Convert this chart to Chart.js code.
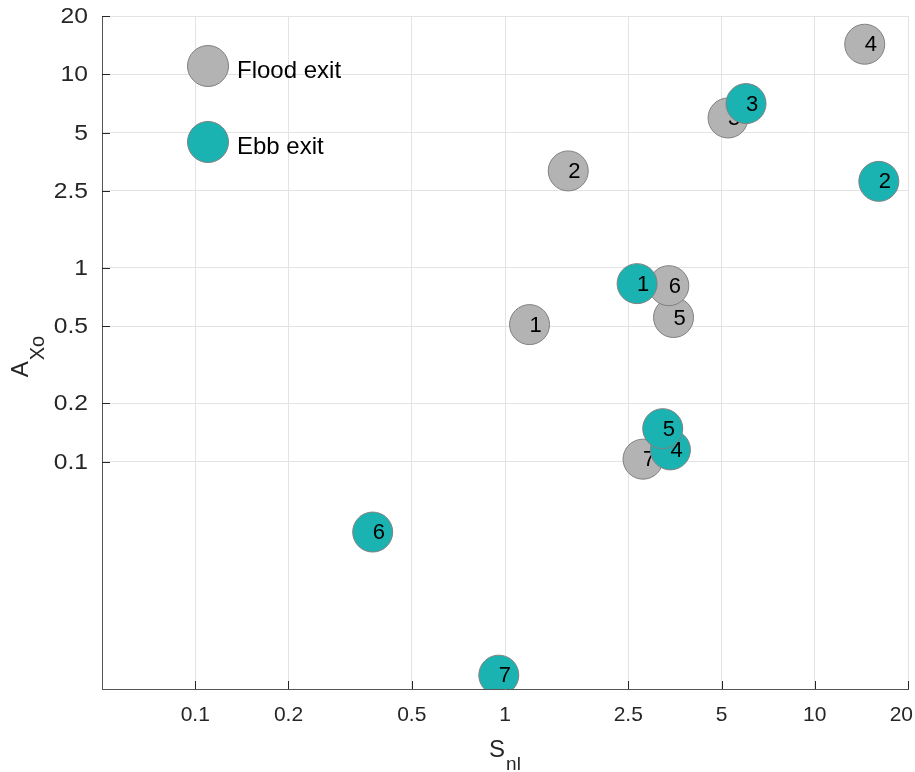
<!DOCTYPE html>
<html>
<head>
<meta charset="utf-8">
<script src="https://cdn.jsdelivr.net/npm/chart.js@4.4.1/dist/chart.umd.min.js"></script>
<style>
  html, body { margin: 0; padding: 0; background: #fff; }
  #wrap { width: 915px; height: 772px; }
</style>
</head>
<body>
<div id="wrap"><canvas id="chart" width="915" height="772"></canvas></div>
<script>
// numbers written on the bubbles
const pointIds = ['1', '2', '3', '4', '5', '6', '7'];

// Flood exit
const floodX = [1.2, 1.6, 5.25, 14.5, 3.5, 3.38, 2.79];
const floodY = [0.51, 3.17, 5.95, 14.3, 0.555, 0.81, 0.103];

// Ebb exit
const ebbX = [2.67, 16.1, 6.0, 3.42, 3.23, 0.374, 0.955];
const ebbY = [0.83, 2.8, 7.06, 0.115, 0.148, 0.0433, 0.0079];

const xTicks = [0.1, 0.2, 0.5, 1, 2.5, 5, 10, 20];
const xTickLabels = ['0.1', '0.2', '0.5', '1', '2.5', '5', '10', '20'];
const yTicks = [0.1, 0.2, 0.5, 1, 2.5, 5, 10, 20];
const yTickLabels = ['0.1', '0.2', '0.5', '1', '2.5', '5', '10', '20'];

const FONT = '"Liberation Sans", Arial, Helvetica, sans-serif';
const GRAY = '#b3b3b3';
const TEAL = '#1bb3b1';
const EDGE = '#808080';

function toPoints(xs, ys) {
    return xs.map((x, i) => ({ x: x, y: ys[i] }));
}

// numbers next to the centre of every bubble
const pointLabels = {
    id: 'pointLabels',
    afterDatasetDraw(chart, args) {
        const ctx = chart.ctx;
        ctx.save();
        ctx.font = '22px ' + FONT;
        ctx.fillStyle = '#000';
        ctx.textAlign = 'left';
        ctx.textBaseline = 'middle';
        args.meta.data.forEach((pt, i) => {
            ctx.fillText(pointIds[i], pt.x, pt.y + 1);
        });
        ctx.restore();
    }
};

// tick marks pointing into the plot, and the tick labels
// (labels drawn here so they do not push the plot area in)
const axisTicks = {
    id: 'axisTicks',
    beforeDatasetsDraw(chart) {
        const ctx = chart.ctx;
        const area = chart.chartArea;
        const xs = chart.scales.x;
        const ys = chart.scales.y;
        ctx.save();
        ctx.strokeStyle = '#262626';
        ctx.lineWidth = 1;
        ctx.beginPath();
        xTicks.forEach(v => {
            const px = Math.round(xs.getPixelForValue(v)) + 0.5;
            ctx.moveTo(px, area.bottom);
            ctx.lineTo(px, area.bottom - 8);
        });
        yTicks.forEach(v => {
            const py = Math.round(ys.getPixelForValue(v)) + 0.5;
            ctx.moveTo(area.left, py);
            ctx.lineTo(area.left + 8, py);
        });
        ctx.stroke();

        ctx.fillStyle = '#262626';
        ctx.textBaseline = 'middle';
        ctx.font = '21px ' + FONT;
        ctx.textAlign = 'center';
        xTicks.forEach((v, i) => {
            const w = ctx.measureText(xTickLabels[i]).width;
            // keep the last label inside the canvas
            const px = Math.min(xs.getPixelForValue(v), chart.width - 2 - w / 2);
            ctx.fillText(xTickLabels[i], px, area.bottom + 26);
        });

        // y labels are a bit wider in the original
        ctx.font = '22px ' + FONT;
        ctx.textAlign = 'right';
        yTicks.forEach((v, i) => {
            ctx.save();
            ctx.translate(area.left - 14, ys.getPixelForValue(v) + 1);
            ctx.scale(1.12, 1);
            ctx.fillText(yTickLabels[i], 0, 0);
            ctx.restore();
        });
        ctx.restore();
    }
};

// axis titles with subscripts + legend inside the plot
const extras = {
    id: 'extras',
    afterDraw(chart) {
        const ctx = chart.ctx;
        const area = chart.chartArea;
        ctx.save();
        ctx.fillStyle = '#262626';
        ctx.textBaseline = 'alphabetic';
        ctx.textAlign = 'left';

        // x title: S_nl
        ctx.font = '24px ' + FONT;
        const sW = ctx.measureText('S').width;
        ctx.font = '19px ' + FONT;
        const nlW = ctx.measureText('nl').width;
        const x0 = (area.left + area.right) / 2 - (sW + nlW + 1) / 2;
        ctx.font = '24px ' + FONT;
        ctx.fillText('S', x0, 757);
        ctx.font = '19px ' + FONT;
        ctx.fillText('nl', x0 + sW + 1, 770);

        // y title: A_Xo (rotated)
        ctx.font = '24px ' + FONT;
        const aW = ctx.measureText('A').width;
        ctx.font = '20px ' + FONT;
        const xoW = ctx.measureText('Xo').width;
        const cy = (area.top + area.bottom) / 2 + 4;
        ctx.translate(28, cy + (aW + xoW + 1) / 2);
        ctx.rotate(-Math.PI / 2);
        ctx.font = '24px ' + FONT;
        ctx.fillText('A', 0, 0);
        ctx.font = '20px ' + FONT;
        ctx.fillText('Xo', aW + 1, 16);
        ctx.restore();

        // legend
        const items = [
            { label: 'Flood exit', color: GRAY },
            { label: 'Ebb exit', color: TEAL }
        ];
        ctx.save();
        items.forEach((it, i) => {
            const cx = area.left + 106;
            const cyy = area.top + 50 + i * 76;
            ctx.beginPath();
            ctx.arc(cx, cyy, 20.5, 0, Math.PI * 2);
            ctx.fillStyle = it.color;
            ctx.fill();
            ctx.strokeStyle = EDGE;
            ctx.lineWidth = 1;
            ctx.stroke();
            ctx.fillStyle = '#000';
            ctx.font = '24px ' + FONT;
            ctx.textAlign = 'left';
            ctx.textBaseline = 'middle';
            ctx.fillText(it.label, cx + 29, cyy + 5);
        });
        ctx.restore();
    }
};

const ctx = document.getElementById('chart').getContext('2d');
const chart = new Chart(ctx, {
    type: 'scatter',
    data: {
        datasets: [
            {
                label: 'Flood exit',
                data: toPoints(floodX, floodY),
                backgroundColor: GRAY,
                borderColor: EDGE,
                borderWidth: 1,
                pointRadius: 20,
                pointHoverRadius: 20,
                order: 2
            },
            {
                label: 'Ebb exit',
                data: toPoints(ebbX, ebbY),
                backgroundColor: TEAL,
                borderColor: EDGE,
                borderWidth: 1,
                pointRadius: 20,
                pointHoverRadius: 20,
                order: 1
            }
        ]
    },
    options: {
        responsive: false,
        animation: false,
        layout: { autoPadding: false, padding: { left: 0, right: 7, top: 16, bottom: 0 } },
        plugins: {
            legend: { display: false },
            tooltip: { enabled: false }
        },
        events: [],
        scales: {
            x: {
                type: 'logarithmic',
                min: 0.05,
                max: 20,
                afterBuildTicks: s => { s.ticks = xTicks.map(v => ({ value: v })); },
                afterFit: s => { s.height = 83; },
                grid: { color: '#e3e3e3', drawTicks: false },
                border: { display: true, color: '#555', width: 1 },
                ticks: { display: false }
            },
            y: {
                type: 'logarithmic',
                min: 0.0067,
                max: 20,
                afterBuildTicks: s => { s.ticks = yTicks.map(v => ({ value: v })); },
                afterFit: s => { s.width = 102; },
                grid: { color: '#e3e3e3', drawTicks: false },
                border: { display: true, color: '#555', width: 1 },
                ticks: { display: false }
            }
        }
    },
    plugins: [pointLabels, axisTicks, extras]
});
</script>
</body>
</html>
